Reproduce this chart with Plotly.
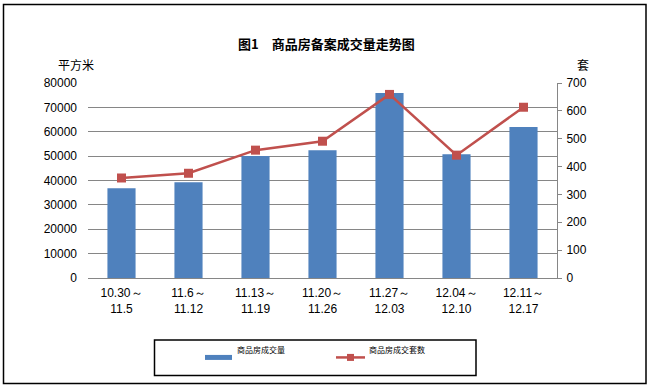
import plotly.graph_objects as go

categories = ["10.30～<br>11.5", "11.6～<br>11.12", "11.13～<br>11.19", "11.20～<br>11.26",
              "11.27～<br>12.03", "12.04～<br>12.10", "12.11～<br>12.17"]
area_values = [36800, 39300, 50100, 52400, 75900, 50800, 61900]
count_values = [359, 376, 459, 491, 659, 441, 613]
left_ticks = [0, 10000, 20000, 30000, 40000, 50000, 60000, 70000, 80000]
right_ticks = [0, 100, 200, 300, 400, 500, 600, 700]
series_names = ["商品房成交量", "商品房成交套数"]

W, H = 652, 387
PL, PR, PT, PB = 88, 557, 83, 277.7

def px(x):
    return (x - PL) / (PR - PL)

def py(y):
    return (PB - y) / (PB - PT)

BAR_COLOR = "#4F81BD"
LINE_COLOR = "#C0504D"

fig = go.Figure()
fig.add_trace(go.Bar(x=categories, y=area_values, name=series_names[0],
                     marker=dict(color=BAR_COLOR, line=dict(width=0)), width=0.42))
fig.add_trace(go.Scatter(x=categories, y=count_values, name=series_names[1], yaxis="y2",
                         mode="lines+markers",
                         line=dict(color=LINE_COLOR, width=2.5),
                         marker=dict(symbol="square", size=9, color=LINE_COLOR)))

tickfont = dict(family="Liberation Sans, Arial", size=12, color="#000000")

fig.update_layout(
    width=W, height=H,
    margin=dict(l=PL, r=W - PR, t=PT, b=H - PB, pad=0),
    paper_bgcolor="white", plot_bgcolor="white",
    showlegend=False,
    xaxis=dict(showgrid=False, showline=True, linecolor="#868686", linewidth=1,
               ticks="", tickfont=dict(family="Liberation Sans, Arial", size=12, color="#000"),
               ticklabelstandoff=4, fixedrange=True),
    yaxis=dict(range=[0, 80000], tickvals=left_ticks, showgrid=True, gridcolor="#868686",
               gridwidth=1, showline=False, zeroline=False, ticks="", ticklen=0,
               tickfont=tickfont, ticklabelstandoff=10, tickformat="d"),
    yaxis2=dict(range=[0, 700], tickvals=right_ticks, overlaying="y", side="right",
                showgrid=False, showline=True, linecolor="#868686", linewidth=1,
                ticks="outside", ticklen=4, tickcolor="#868686", zeroline=False,
                tickfont=tickfont, ticklabelstandoff=2),
)

# title and units
fig.add_annotation(text="<b>图1　商品房备案成交量走势图</b>", xref="paper", yref="paper",
                   x=px(326), y=py(32), showarrow=False,
                   font=dict(family="Noto Sans CJK SC", size=13, color="#000"))
fig.add_annotation(text="平方米", xref="paper", yref="paper", x=px(56), y=py(54),
                   showarrow=False, font=dict(family="Noto Sans CJK SC", size=12, color="#000"))
fig.add_annotation(text="套", xref="paper", yref="paper", x=px(591), y=py(54),
                   showarrow=False, font=dict(family="Noto Sans CJK SC", size=12, color="#000"))

# outer frame and legend box
fig.add_shape(type="rect", xref="paper", yref="paper", x0=px(3.5), x1=px(646), y0=py(383), y1=py(4.5),
              line=dict(color="#000", width=1.5), layer="above")
fig.add_shape(type="rect", xref="paper", yref="paper", x0=px(154.5), x1=px(476), y0=py(375), y1=py(339.5),
              line=dict(color="#000", width=1.5), layer="above")

# legend entries
fig.add_shape(type="line", xref="paper", yref="paper", x0=px(205), x1=px(232), y0=py(357), y1=py(357),
              line=dict(color=BAR_COLOR, width=5))
fig.add_annotation(text=series_names[0], xref="paper", yref="paper", x=px(235), y=py(357),
                   xanchor="left", showarrow=False,
                   font=dict(family="Noto Sans CJK SC", size=8, color="#000"))
fig.add_shape(type="line", xref="paper", yref="paper", x0=px(336), x1=px(365), y0=py(357), y1=py(357),
              line=dict(color=LINE_COLOR, width=2.5))
fig.add_shape(type="rect", xref="paper", yref="paper", x0=px(347), x1=px(354), y0=py(360.5), y1=py(353.5),
              line=dict(width=0), fillcolor=LINE_COLOR)
fig.add_annotation(text=series_names[1], xref="paper", yref="paper", x=px(367), y=py(357),
                   xanchor="left", showarrow=False,
                   font=dict(family="Noto Sans CJK SC", size=8, color="#000"))

fig.write_html("out.html", config={"displayModeBar": False},
               post_script="document.body.style.margin='0';document.body.style.overflow='hidden';")
